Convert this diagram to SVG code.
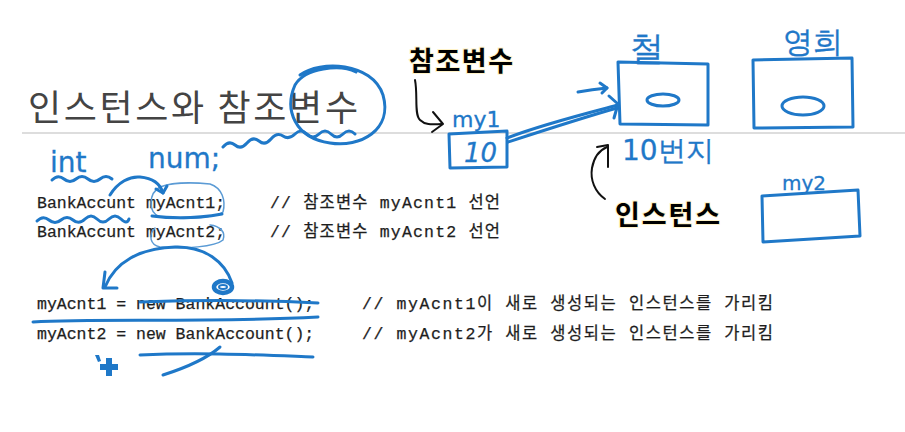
<svg xmlns="http://www.w3.org/2000/svg" width="905" height="432" viewBox="0 0 905 432">
<style>
.b{fill:none;stroke:#1f78c8;stroke-width:3;stroke-linecap:round;stroke-linejoin:round}
.bt{fill:none;stroke:#5b9bd5;stroke-width:1.5;stroke-linecap:round}
.k{fill:none;stroke:#111;stroke-width:2;stroke-linecap:round;stroke-linejoin:round}
.hw{fill:#1f78c8;font-family:"DejaVu Sans",sans-serif;stroke:#1f78c8;stroke-width:0.3}
.code{fill:#1e1e1e;font-family:"Liberation Mono","Noto Sans CJK KR",monospace;font-size:16.5px;stroke:#1e1e1e;stroke-width:0.25}
.lbl{fill:#000;font-family:"Noto Sans CJK KR",sans-serif;font-weight:bold;font-size:27px;stroke:#fff3c8;stroke-width:2;paint-order:stroke}
</style>
<rect width="905" height="432" fill="#fff"/>
<g id="title">
<text x="28" y="121" font-family="Noto Sans CJK KR, sans-serif" font-size="36" fill="#444" textLength="330">인스턴스와 참조변수</text>
<line x1="22" y1="133" x2="905" y2="133" stroke="#bbb" stroke-width="1.2"/>
</g>
<g id="code">
<text class="code" x="37" y="208">BankAccunt myAcnt1;</text>
<text class="code" x="270" y="208" textLength="230">// 참조변수 myAcnt1 선언</text>
<text class="code" x="37" y="237">BankAccunt myAcnt2;</text>
<text class="code" x="270" y="237" textLength="230">// 참조변수 myAcnt2 선언</text>
<text class="code" x="37" y="309">myAcnt1 = new BankAccount();</text>
<text class="code" x="362" y="309" textLength="411">// myAcnt1이 새로 생성되는 인스턴스를 가리킴</text>
<text class="code" x="37" y="339">myAcnt2 = new BankAccount();</text>
<text class="code" x="362" y="339" textLength="411">// myAcnt2가 새로 생성되는 인스턴스를 가리킴</text>
</g>
<g id="labels">
<text class="lbl" x="409" y="71" textLength="104">참조변수</text>
<text class="lbl" x="615" y="225" textLength="105">인스턴스</text>
</g>
<g id="my1">
<path class="b" d="M449,134 L507,131 L507,167 L450,168 Z"/>
<text class="hw" x="452" y="127" font-size="22">my1</text>
<text class="hw" x="464" y="162" font-size="26" font-style="italic">10</text>
</g>
<g id="chul">
<path class="b" d="M618,62 L708,64 L708,125 L620,124 Z"/>
<ellipse class="b" cx="663" cy="100" rx="16" ry="6"/>
<text class="hw" x="630" y="60" font-size="34" font-family="Noto Sans CJK KR, sans-serif">철</text>
<text class="hw" x="622" y="160" font-size="28" font-family="Noto Sans CJK KR, sans-serif">10번지</text>
</g>
<g id="younghee">
<path class="b" d="M753,60 L852,58 L853,127 L754,128 Z"/>
<ellipse class="b" cx="803" cy="106" rx="21" ry="9"/>
<text class="hw" x="783" y="52" font-size="30" font-family="Noto Sans CJK KR, sans-serif">영희</text>
</g>
<g id="my2">
<path class="b" d="M762,196 L858,190 L860,236 L763,242 Z"/>
<text class="hw" x="782" y="190" font-size="20">my2</text>
</g>
<g id="annotations">
<text class="hw" x="50" y="172" font-size="28">int</text>
<text class="hw" x="148" y="168" font-size="28">num;</text>
<path class="b" d="M300,75 C320,60 372,62 383,95 C393,130 360,148 330,143 C295,138 284,110 295,85 C305,68 340,64 356,72"/>
<path class="b" d="M223,147 q6,-7 12,-2 t12,-2 t12,-2 t12,-2 t12,-3 t12,-2 t12,0 t12,0 t12,0 t12,0 t12,0"/>
<path class="b" d="M52,180 q6,-6 12,-1 t12,0 t12,0 t12,0 t12,0"/>
<path class="b" d="M37,221 q6,-6 12,-1 t12,0 t12,0 t12,-1 t12,0 t12,0 t12,0 t8,0"/>
<path class="bt" d="M160,187 C149,193 147,212 160,217 C185,220 215,218 223,212 C226,200 222,188 210,184 C190,182 170,183 160,187"/>
<path class="b" d="M152,216 C175,219 200,218 222,214"/>
<path class="bt" d="M155,228 C148,235 150,245 160,247 C185,249 215,247 223,240 C226,232 220,226 210,225"/>
</g>
<g id="connectors">
<path class="b" d="M110,195 C118,182 130,176 140,177 C152,178 160,183 163,193"/>
<path class="b" d="M156,189 L163,193 L167,186"/>
<path class="b" d="M105,287 C115,262 140,248 175,247 C205,246 225,262 232,283"/>
<path class="b" d="M105,272 L103,288 L117,288"/>
<ellipse cx="223" cy="287" rx="9" ry="6" fill="none" stroke="#1f78c8" stroke-width="4.5"/>
<ellipse cx="223" cy="287" rx="4" ry="2" fill="none" stroke="#1f78c8" stroke-width="2"/>
<path class="b" d="M140,302 C200,300 260,300 318,303"/>
<path class="b" d="M33,322 C100,318 200,323 318,317"/>
<path class="b" d="M140,355 C200,352 260,355 313,357"/>
<path class="b" d="M220,347 C205,360 185,368 163,375"/>
<path fill="#1f78c8" d="M106,358 h6 v6 h6 v6 h-6 v6 h-6 v-6 h-6 v-6 h6 Z M95,355 l4,0 l2,6 l-3,1 Z"/>
<path class="b" d="M507,138 C540,125 580,115 618,105"/>
<path class="b" stroke-width="2" d="M508,142 C545,130 585,117 617,108"/>
<path class="b" d="M609,96 L618,104 L614,118"/>
<path class="b" stroke-width="2" d="M578,92 C590,90 598,89 607,88"/>
<path class="b" stroke-width="2" d="M600,83 L607,88 L602,93"/>
<path class="k" d="M415,80 C418,95 414,115 420,120 C426,126 435,124 442,124"/>
<path class="k" d="M433,112 L443,124 L432,132"/>
<path class="k" d="M605,199 C595,192 590,180 592,168 C594,157 600,150 607,147"/>
<path class="k" d="M597,147 L608,145 L608,167"/>
</g>
</svg>
